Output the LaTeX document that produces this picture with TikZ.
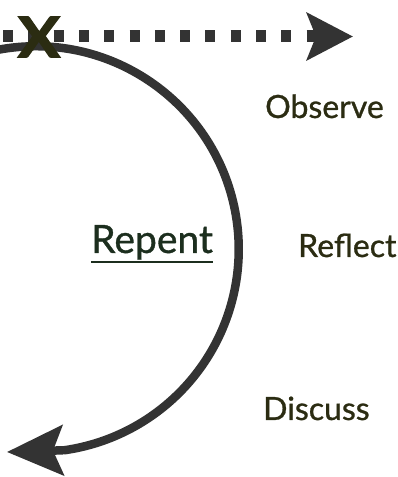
\documentclass[tikz,border=0pt]{standalone}
\usepackage{fontspec}
\setmainfont{Lato}
\newfontfamily\labelfont{Lato}[FakeBold=0.9]
\newfontfamily\xmarkfont{Lato}[FakeBold=2.5]
\usetikzlibrary{arrows.meta}
\definecolor{linegray}{HTML}{333333}
\definecolor{olive}{HTML}{2B2C12}
\definecolor{darkgreen}{HTML}{1C2E1E}
\begin{document}
\begin{tikzpicture}[x=1pt,y=1pt,
  label/.style={inner sep=0pt, anchor=base west, text=olive, font=\labelfont\fontsize{32}{36}\selectfont},
  arcline/.style={draw=linegray, line width=8.5pt, line cap=round},
  arctip/.style={draw=linegray, line width=8.5pt, -{Stealth[length=56pt,width=50pt,inset=10pt]}},
  dotline/.style={draw=linegray, line width=12pt, dash pattern=on 10pt off 15.3pt, -{Stealth[length=46pt,width=47pt,inset=9pt]}}
]
\useasboundingbox (0,0) rectangle (397,477);
\coordinate (dstart) at (3,440.5);
\coordinate (dend) at (353,440.5);
\coordinate (astart) at (-3,427);
\coordinate (tip) at (7,25);
\path[dotline] (dstart) -- (dend);
\path[arcline] (astart) arc[start angle=101, end angle=-82, radius=203] coordinate (aend);
\path[arctip] ([xshift=-1pt]aend) -- (tip);
\node[inner sep=0pt, text=olive, font=\xmarkfont\fontsize{56}{60}\selectfont\bfseries, xscale=1.12] (x) at (39,440) {X};
\node[label] (observe) at (265,359) {Observe};
\node[label] (reflect) at (298,220) {Reflect};
\node[label, text=darkgreen, font=\labelfont\fontsize{39}{42}\selectfont] (repent) at (91,224) {Repent};
\draw[darkgreen, line width=1.8pt] ([yshift=-9pt]repent.base west) -- ([yshift=-9pt]repent.base east);
\node[label] (discuss) at (263,57) {Discuss};
\end{tikzpicture}
\end{document}
